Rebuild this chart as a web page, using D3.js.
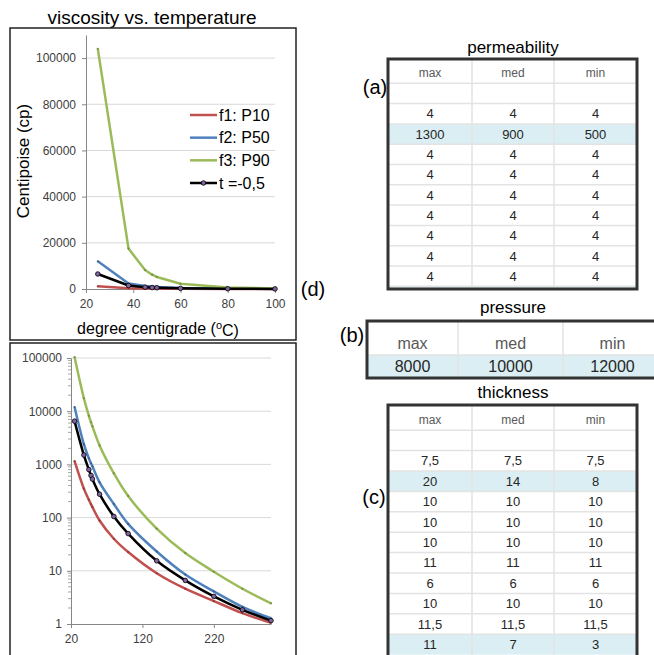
<!DOCTYPE html>
<html lang="en">
<head>
<meta charset="utf-8">
<title>viscosity vs. temperature</title>
<script src="https://d3js.org/d3.v7.min.js"></script>
<style>
  body { margin: 0; background: #fff; }
  svg { display: block; font-family: "Liberation Sans", Arial, sans-serif; }
  .axis text { font-size: 12px; fill: #404040; font-family: "Liberation Sans", Arial, sans-serif; }
  .axis path, .axis line { stroke: #868686; }
</style>
</head>
<body>
<div id="chart"></div>
<script>
// viscosity (cp) vs temperature (C)
var temps    = [25, 38, 45, 48, 50, 60, 80, 100, 140, 180, 220, 260, 300];
var f1P10    = [1150, 350, 216, 178, 157, 88, 40, 22.5, 9, 4.6, 2.7, 1.6, 1.05];
var f2P50    = [12000, 2400, 1300, 1050, 920, 460, 180, 76, 23, 8.5, 4.1, 2.1, 1.28];
var f3P90    = [104000, 17500, 8200, 6200, 5200, 2270, 680, 255, 62, 21.5, 9.6, 4.6, 2.45];
var tMinus05 = [6500, 1500, 800, 620, 530, 275, 105, 50, 15.4, 6.6, 3.3, 1.85, 1.16];

var seriesNames  = ["f1: P10", "f2: P50", "f3: P90", "t =-0,5"];
var seriesColors = ["#C0504D", "#4F81BD", "#9BBB59", "#000000"];

var linYTicks = [0, 20000, 40000, 60000, 80000, 100000];
var linXTicks = [20, 40, 60, 80, 100];
var logYTicks = [1, 10, 100, 1000, 10000, 100000];
var logXTicks = [20, 120, 220];

// tables
var colHead = ["max", "med", "min"];
var permRows = [["", "", ""], ["4", "4", "4"], ["1300", "900", "500"],
  ["4", "4", "4"], ["4", "4", "4"], ["4", "4", "4"], ["4", "4", "4"],
  ["4", "4", "4"], ["4", "4", "4"], ["4", "4", "4"], ["", "", ""]];
var permHighlight = [3, 11];
var pressRows = [["8000", "10000", "12000"]];
var pressHighlight = [1];
var thickRows = [["", "", ""], ["7,5", "7,5", "7,5"], ["20", "14", "8"],
  ["10", "10", "10"], ["10", "10", "10"], ["10", "10", "10"], ["11", "11", "11"],
  ["6", "6", "6"], ["10", "10", "10"], ["11,5", "11,5", "11,5"], ["11", "7", "3"]];
var thickHighlight = [3, 11];

var w = 654, h = 655;

var svg = d3.select("#chart").append("svg")
            .attr("width", w)
            .attr("height", h);

svg.append("rect").attr("width", w).attr("height", h).attr("fill", "#fff");

var series = seriesNames.map(function(name, i) {
  var vals = [f1P10, f2P50, f3P90, tMinus05][i];
  return {name: name, color: seriesColors[i], marker: i == 3,
          points: temps.map((t, j) => ({t: t, v: vals[j]}))};
});

// ---------- linear chart ----------
svg.append("text").attr("x", 152).attr("y", 17).attr("dy", ".35em")
   .attr("text-anchor", "middle").attr("font-size", 19).attr("fill", "#000")
   .text("viscosity vs. temperature");

svg.append("rect").attr("x", 10).attr("y", 28).attr("width", 286).attr("height", 312)
   .attr("fill", "none").attr("stroke", "#222").attr("stroke-width", 1.5);

var xLin = d3.scaleLinear().domain([20, 100]).range([86, 275]);
var yLin = d3.scaleLinear().domain([0, 110000]).range([289, 35]);

svg.append("g").selectAll("line").data(linYTicks.slice(1)).enter().append("line")
   .attr("x1", xLin(20)).attr("x2", xLin(100))
   .attr("y1", d => yLin(d)).attr("y2", d => yLin(d))
   .attr("stroke", "#D9D9D9");

svg.append("g").attr("class", "axis")
   .attr("transform", `translate(${xLin(20)},0)`)
   .call(d3.axisLeft(yLin).tickValues(linYTicks).tickSize(4).tickSizeOuter(0).tickPadding(6)
          .tickFormat(d3.format("d")));

svg.append("g").attr("class", "axis")
   .attr("transform", `translate(0,${yLin(0)})`)
   .call(d3.axisBottom(xLin).tickValues(linXTicks).tickSize(4).tickSizeOuter(0).tickPadding(6));

var lineLin = d3.line().x(d => xLin(d.t)).y(d => yLin(d.v));

var linG = svg.append("g");
series.forEach(function(s) {
  var pts = s.points.filter(p => p.t <= 100);
  linG.append("path").attr("d", lineLin(pts)).attr("fill", "none")
      .attr("stroke", s.color).attr("stroke-width", 2.5).attr("stroke-linejoin", "round");
  linG.selectAll(null).data(pts).enter().append("circle")
      .attr("cx", d => xLin(d.t)).attr("cy", d => yLin(d.v))
      .attr("r", s.marker ? 2.3 : 1.1)
      .attr("fill", s.marker ? "#8064A2" : d3.color(s.color).darker(0.8))
      .attr("stroke", s.marker ? "#000" : "none").attr("stroke-width", 0.8);
});

svg.append("text").attr("transform", "translate(23,161) rotate(-90)")
   .attr("text-anchor", "middle").attr("dy", ".35em").attr("font-size", 17)
   .text("Centipoise (cp)");

var xTitle = svg.append("text").attr("x", 158).attr("y", 328).attr("dy", ".35em")
   .attr("text-anchor", "middle").attr("font-size", 16);
xTitle.append("tspan").text("degree centigrade (");
xTitle.append("tspan").attr("font-size", 11).attr("dy", "-0.45em").text("o");
xTitle.append("tspan").attr("dy", "0.45em").text("C)");

var legend = svg.append("g");
var legY = d3.scalePoint().domain(seriesNames).range([115, 183]);
legend.selectAll("line").data(series).enter().append("line")
      .attr("x1", 190).attr("x2", 217)
      .attr("y1", d => legY(d.name)).attr("y2", d => legY(d.name))
      .attr("stroke", d => d.color).attr("stroke-width", 2.5);
legend.selectAll("circle").data(series.filter(s => s.marker)).enter().append("circle")
      .attr("cx", 203.5).attr("cy", d => legY(d.name)).attr("r", 2.3)
      .attr("fill", "#8064A2").attr("stroke", "#000").attr("stroke-width", 0.8);
legend.selectAll("text").data(series).enter().append("text")
      .attr("x", 219).attr("y", d => legY(d.name)).attr("dy", ".35em")
      .attr("font-size", 16).text(d => d.name);

// ---------- log chart ----------
svg.append("rect").attr("x", 10).attr("y", 343).attr("width", 286).attr("height", 320)
   .attr("fill", "none").attr("stroke", "#222").attr("stroke-width", 1.5);

var xLog = d3.scaleLinear().domain([20, 300]).range([71, 271]);
var yLog = d3.scaleLog().domain([1, 100000]).range([624, 358]);

svg.append("g").selectAll("line").data(logYTicks.slice(1)).enter().append("line")
   .attr("x1", xLog(20)).attr("x2", xLog(300))
   .attr("y1", d => yLog(d)).attr("y2", d => yLog(d))
   .attr("stroke", "#D9D9D9");

var minorTicks = [];
logYTicks.slice(0, -1).forEach(function(dec) {
  for (var k = 2; k < 10; k++) minorTicks.push(dec * k);
});
svg.append("g").selectAll("line").data(minorTicks).enter().append("line")
   .attr("x1", xLog(20) - 3).attr("x2", xLog(20))
   .attr("y1", d => yLog(d)).attr("y2", d => yLog(d))
   .attr("stroke", "#A6A6A6");

svg.append("g").attr("class", "axis")
   .attr("transform", `translate(${xLog(20)},0)`)
   .call(d3.axisLeft(yLog).tickValues(logYTicks).tickSize(4).tickSizeOuter(0).tickPadding(5)
          .tickFormat(d3.format("d")));

svg.append("g").attr("class", "axis")
   .attr("transform", `translate(0,${yLog(1)})`)
   .call(d3.axisBottom(xLog).tickValues(logXTicks).tickSize(4).tickSizeOuter(0).tickPadding(6));

// smoothed lines, like the spreadsheet's smoothed series
var lineLog = d3.line().x(d => xLog(d.t)).y(d => yLog(d.v)).curve(d3.curveCatmullRom.alpha(0.5));

var logG = svg.append("g");
series.forEach(function(s) {
  logG.append("path").attr("d", lineLog(s.points)).attr("fill", "none")
      .attr("stroke", s.color).attr("stroke-width", 2.5).attr("stroke-linejoin", "round");
  logG.selectAll(null).data(s.points).enter().append("circle")
      .attr("cx", d => xLog(d.t)).attr("cy", d => yLog(d.v))
      .attr("r", s.marker ? 2.3 : 1.1)
      .attr("fill", s.marker ? "#8064A2" : d3.color(s.color).darker(0.8))
      .attr("stroke", s.marker ? "#000" : "none").attr("stroke-width", 0.8);
});

// ---------- tables ----------
var tableId = 0;
function drawTable(opt) {
  var g = svg.append("g");
  var id = "clip" + (tableId++);
  svg.append("clipPath").attr("id", id).append("rect")
     .attr("x", opt.left).attr("y", opt.top)
     .attr("width", opt.right - opt.left).attr("height", opt.bottom - opt.top);
  var inner = g.append("g").attr("clip-path", `url(#${id})`);

  var rows = [colHead].concat(opt.rows);
  var nRows = Math.max(rows.length, d3.max(opt.highlight) + 1);
  var yRow = i => opt.firstTop + opt.rowH * i;
  var colEdges = opt.colEdges;
  var colMid = j => (colEdges[j] + colEdges[j + 1]) / 2;

  inner.selectAll(".hl").data(opt.highlight).enter().append("rect")
       .attr("x", opt.left).attr("width", opt.right - opt.left)
       .attr("y", d => yRow(d)).attr("height", opt.rowH)
       .attr("fill", "#DAEEF3");

  inner.selectAll(".hline").data(d3.range(1, nRows)).enter().append("line")
       .attr("x1", opt.left).attr("x2", opt.right)
       .attr("y1", d => yRow(d)).attr("y2", d => yRow(d))
       .attr("stroke", "#E3E3E3").attr("stroke-width", 1.5);

  inner.selectAll(".vline").data(colEdges.slice(1, -1)).enter().append("line")
       .attr("x1", d => d).attr("x2", d => d)
       .attr("y1", opt.top).attr("y2", opt.bottom)
       .attr("stroke", "#E3E3E3").attr("stroke-width", 1.5);

  rows.forEach(function(r, i) {
    inner.selectAll(null).data(r).enter().append("text")
         .attr("x", (d, j) => colMid(j))
         .attr("y", yRow(i) + opt.rowH / 2).attr("dy", ".36em")
         .attr("text-anchor", "middle")
         .attr("font-size", i == 0 ? opt.headSize : opt.fontSize)
         .attr("fill", i == 0 ? "#595959" : "#262626")
         .text(d => d);
  });

  g.append("rect").attr("x", opt.left).attr("y", opt.top)
   .attr("width", opt.right - opt.left).attr("height", opt.bottom - opt.top)
   .attr("fill", "none").attr("stroke", "#333").attr("stroke-width", 3);

  svg.append("text").attr("x", 513).attr("y", opt.titleY).attr("dy", ".35em")
     .attr("text-anchor", "middle").attr("font-size", 17).text(opt.title);
}

drawTable({title: "permeability", titleY: 47, rows: permRows, highlight: permHighlight,
  left: 388, right: 637, top: 59, bottom: 289, firstTop: 63, rowH: 20.3,
  colEdges: [388, 472, 554, 637], fontSize: 13, headSize: 12});

drawTable({title: "pressure", titleY: 307, rows: pressRows, highlight: pressHighlight,
  left: 367, right: 662, top: 321, bottom: 378, firstTop: 332, rowH: 23,
  colEdges: [367, 458, 563, 662], fontSize: 16, headSize: 16});

drawTable({title: "thickness", titleY: 392, rows: thickRows, highlight: thickHighlight,
  left: 388, right: 637, top: 405, bottom: 662, firstTop: 409.8, rowH: 20.4,
  colEdges: [388, 472, 554, 637], fontSize: 13, headSize: 12});

var tags = [{t: "(a)", x: 375, y: 87}, {t: "(d)", x: 313, y: 289},
            {t: "(b)", x: 352, y: 335}, {t: "(c)", x: 374, y: 497}];
svg.append("g").selectAll("text").data(tags).enter().append("text")
   .attr("x", d => d.x).attr("y", d => d.y).attr("dy", ".35em")
   .attr("text-anchor", "middle").attr("font-size", 20).text(d => d.t);
</script>
</body>
</html>
